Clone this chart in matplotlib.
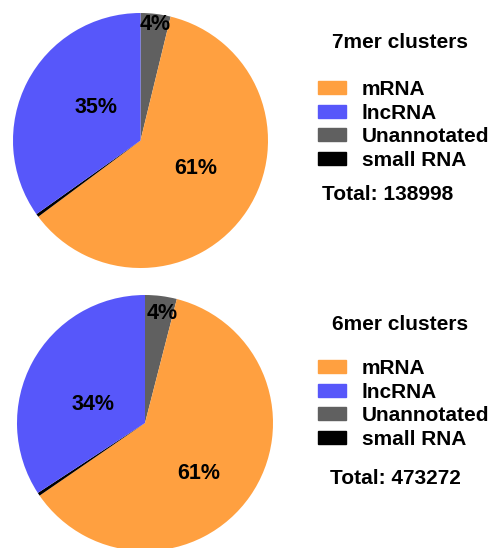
import matplotlib
matplotlib.use("Agg")
import matplotlib.pyplot as plt
from matplotlib.patches import Patch

plt.rcParams["font.family"] = ["Liberation Sans", "DejaVu Sans"]
plt.rcParams["font.weight"] = "bold"

categories = ["Unannotated", "mRNA", "small RNA", "lncRNA"]
legend_order = ["mRNA", "lncRNA", "Unannotated", "small RNA"]
colors = {"mRNA": "#FFA040", "lncRNA": "#5757FA",
          "Unannotated": "#606060", "small RNA": "#000000"}

pct_7mer = [3.8, 61.0, 0.4, 34.8]
pct_6mer = [4.0, 61.4, 0.4, 34.2]
titles = ["7mer clusters", "6mer clusters"]
totals = [138998, 473272]

W, H = 491, 548
fig = plt.figure(figsize=(W / 100, H / 100), dpi=100)

# pie centre (px from top-left), radius px
pies = [(140.5, 140.5, 127.5), (145, 423, 128)]
# label spots in pie units (Excel-style placement), order as categories
label_xy = [
    [(0.114, 0.906), (0.435, -0.216), (0, 0), (-0.345, 0.259)],
    [(0.133, 0.859), (0.422, -0.398), (0, 0), (-0.406, 0.148)],
]
legends = [(400, 43, 88, 195, 388), (400, 325, 367, 478, 395)]


def fmt(p):
    return "" if p < 1 else f"{p:.0f}%"


for vals, (cx, cy, r), spots, title, total, (tx, ty, ly, toty, totx) in zip(
        [pct_7mer, pct_6mer], pies, label_xy, titles, totals, legends):
    ax = fig.add_axes([(cx - r) / W, 1 - (cy + r) / H, 2 * r / W, 2 * r / H])
    wedges, _, autotexts = ax.pie(vals, colors=[colors[c] for c in categories],
                                  startangle=90, counterclock=False,
                                  autopct=fmt, pctdistance=0.48,
                                  textprops=dict(fontsize=15.5, fontweight="bold"))
    for t, xy in zip(autotexts, spots):
        t.set_position(xy)
    ax.set_xlim(-1, 1)
    ax.set_ylim(-1, 1)

    fig.text(tx / W, 1 - ty / H, title, ha="center", va="center",
             fontsize=15, fontweight="bold")
    handles = [Patch(color=colors[c]) for c in legend_order]
    fig.legend(handles, legend_order, loc="upper left",
               bbox_to_anchor=(318 / W, 1 - (ly - 8) / H),
               frameon=False, handlelength=1.35, handleheight=0.6,
               handletextpad=0.75, labelspacing=0.22, borderpad=0,
               borderaxespad=0, prop=dict(size=15, weight="bold"))
    fig.text(totx / W, 1 - toty / H, f"Total: {total}", ha="center",
             va="center", fontsize=15, fontweight="bold")

fig.savefig("out.png", dpi=100)
